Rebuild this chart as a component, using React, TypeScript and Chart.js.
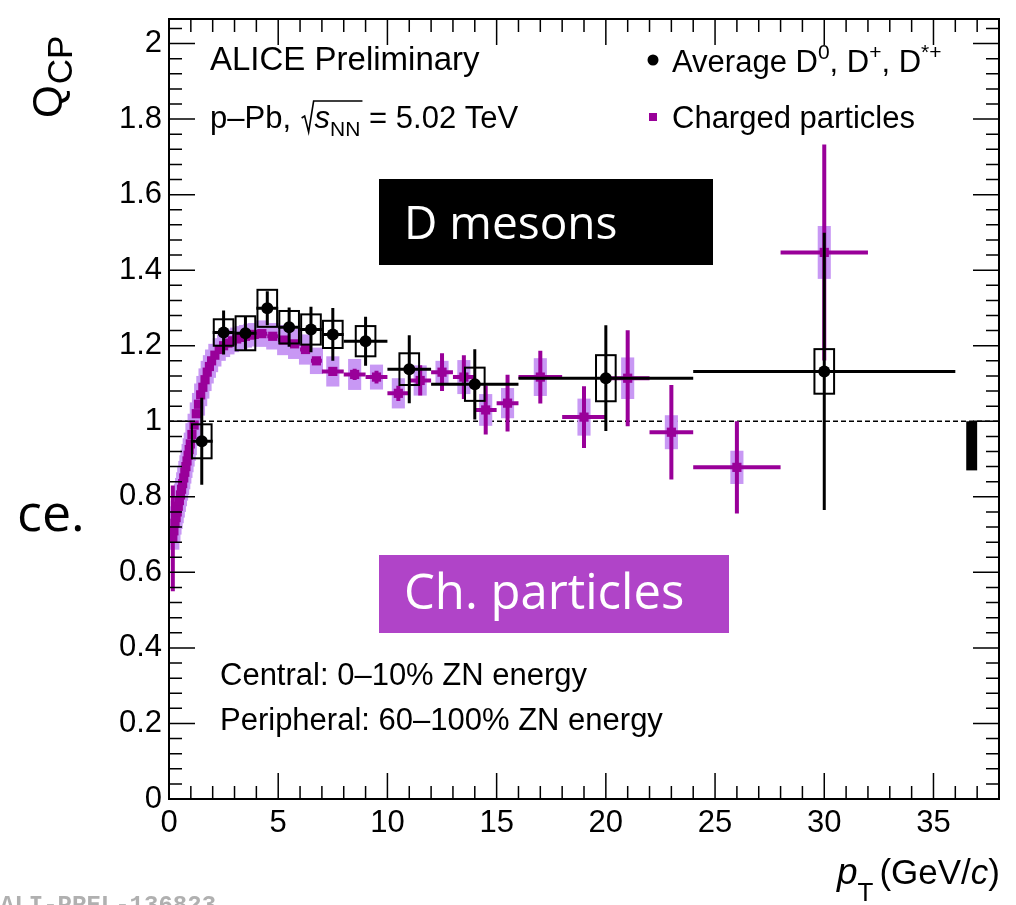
import React, { useEffect, useRef } from "react";
import { Chart, registerables } from "chart.js";

Chart.register(...registerables);

// ---------------- Data ----------------
// D mesons (average D0, D+, D*+)
const dX = [1.5, 2.5, 3.5, 4.5, 5.5, 6.5, 7.5, 9, 11, 14, 20, 30];
const dXErr = [0.5, 0.5, 0.5, 0.5, 0.5, 0.5, 0.5, 1, 1, 2, 4, 6];
const dY = [0.947, 1.235, 1.233, 1.299, 1.249, 1.243, 1.23, 1.212, 1.138, 1.098, 1.114, 1.132];
const dStat = [0.115, 0.058, 0.045, 0.045, 0.052, 0.06, 0.07, 0.065, 0.09, 0.093, 0.14, 0.367];
const dSyst = [0.045, 0.035, 0.045, 0.049, 0.043, 0.04, 0.036, 0.04, 0.042, 0.044, 0.061, 0.059];

// Charged particles
const chX = [
  0.175, 0.225, 0.275, 0.325, 0.375, 0.425, 0.475, 0.525, 0.575, 0.625, 0.675, 0.725, 0.775, 0.825, 0.875, 0.925, 0.975,
  1.05, 1.15, 1.25, 1.35, 1.45, 1.55, 1.65, 1.75, 1.85, 1.95,
  2.1, 2.3, 2.5, 2.7, 2.9, 3.1, 3.3, 3.5, 3.7, 3.9,
  4.25, 4.75, 5.25, 5.75, 6.25, 6.75,
  7.5, 8.5, 9.5, 10.5, 11.5, 12.5, 13.5, 14.5, 15.5,
  17, 19, 21, 23, 26, 30,
];
const chXErr = [
  0.025, 0.025, 0.025, 0.025, 0.025, 0.025, 0.025, 0.025, 0.025, 0.025, 0.025, 0.025, 0.025, 0.025, 0.025, 0.025, 0.025,
  0.05, 0.05, 0.05, 0.05, 0.05, 0.05, 0.05, 0.05, 0.05, 0.05,
  0.1, 0.1, 0.1, 0.1, 0.1, 0.1, 0.1, 0.1, 0.1, 0.1,
  0.25, 0.25, 0.25, 0.25, 0.25, 0.25,
  0.5, 0.5, 0.5, 0.5, 0.5, 0.5, 0.5, 0.5, 0.5,
  1, 1, 1, 1, 2, 2,
];
const chY = [
  0.69, 0.71, 0.73, 0.745, 0.76, 0.775, 0.79, 0.805, 0.82, 0.835, 0.85, 0.865, 0.88, 0.895, 0.91, 0.925, 0.94,
  0.965, 0.99, 1.02, 1.045, 1.07, 1.09, 1.11, 1.13, 1.145, 1.16,
  1.175, 1.19, 1.2, 1.207, 1.213, 1.218, 1.222, 1.225, 1.228, 1.23,
  1.232, 1.225, 1.215, 1.205, 1.19, 1.16,
  1.132, 1.124, 1.117, 1.074, 1.108, 1.13, 1.117, 1.03, 1.048,
  1.117, 1.011, 1.114, 0.971, 0.878, 1.447,
];
const chStat = [
  0.14, 0.02, 0.01, 0.008, 0.006, 0.005, 0.005, 0.005, 0.005, 0.005, 0.005, 0.005, 0.005, 0.005, 0.005, 0.005, 0.005,
  0.005, 0.005, 0.005, 0.005, 0.005, 0.005, 0.005, 0.005, 0.005, 0.005,
  0.005, 0.005, 0.005, 0.005, 0.005, 0.005, 0.005, 0.005, 0.005, 0.005,
  0.006, 0.006, 0.007, 0.008, 0.009, 0.01,
  0.012, 0.015, 0.017, 0.02, 0.04, 0.05, 0.058, 0.065, 0.075,
  0.07, 0.082, 0.127, 0.125, 0.122, 0.286,
];
const chSyst = [
  0.03, 0.03, 0.03, 0.03, 0.03, 0.03, 0.03, 0.03, 0.03, 0.03, 0.03, 0.03, 0.03, 0.03, 0.03, 0.03, 0.03,
  0.03, 0.03, 0.03, 0.03, 0.03, 0.03, 0.03, 0.03, 0.03, 0.03,
  0.03, 0.03, 0.03, 0.03, 0.03, 0.03, 0.03, 0.03, 0.03, 0.03,
  0.035, 0.035, 0.04, 0.04, 0.04, 0.035,
  0.04, 0.041, 0.033, 0.04, 0.04, 0.03, 0.045, 0.042, 0.04,
  0.05, 0.049, 0.055, 0.045, 0.044, 0.07,
];

// normalisation uncertainty box
const normBoxX = [36.5, 37.0];
const normBoxY = [0.87, 1.0];

// Axis ticks
const xTicks = [0, 5, 10, 15, 20, 25, 30, 35];
const xTickLabels = ["0", "5", "10", "15", "20", "25", "30", "35"];
const yTicks = [0, 0.2, 0.4, 0.6, 0.8, 1, 1.2, 1.4, 1.6, 1.8, 2];
const yTickLabels = ["0", "0.2", "0.4", "0.6", "0.8", "1", "1.2", "1.4", "1.6", "1.8", "2"];

const X_MIN = 0;
const X_MAX = 38;
const Y_MIN = 0;
const Y_MAX = 2.065;

// ---------------- Styles ----------------
const SANS = "'Liberation Sans', Arial, Helvetica, sans-serif";
const SLIDE = "'Open Sans', 'Noto Sans', sans-serif";
const PURPLE = "#990099";
const LIGHT_PURPLE = "#c898f4";
const CH_BOX_HALF = 0.3;
const D_BOX_HALF = 0.45;

type Seg = { t: string; f: string; dy?: number; gap?: number };

function drawRich(ctx: CanvasRenderingContext2D, x: number, y: number, segs: Seg[]) {
  let cx = x;
  for (const s of segs) {
    ctx.font = s.f;
    cx += s.gap || 0;
    ctx.fillText(s.t, cx, y + (s.dy || 0));
    cx += ctx.measureText(s.t).width;
  }
  return cx;
}

function richWidth(ctx: CanvasRenderingContext2D, segs: Seg[]) {
  let w = 0;
  for (const s of segs) {
    ctx.font = s.f;
    w += ctx.measureText(s.t).width + (s.gap || 0);
  }
  return w;
}

const qcpPlugin = {
  id: "qcpPlugin",
  beforeDatasetsDraw(chart: any) {
    const { ctx, chartArea: a, scales } = chart;
    const x = scales.x;
    const y = scales.y;
    ctx.save();
    ctx.beginPath();
    ctx.rect(a.left, a.top, a.right - a.left, a.bottom - a.top);
    ctx.clip();
    ctx.strokeStyle = "#000";
    ctx.lineWidth = 1.5;
    ctx.setLineDash([5, 3]);
    ctx.beginPath();
    ctx.moveTo(x.getPixelForValue(X_MIN), y.getPixelForValue(1));
    ctx.lineTo(x.getPixelForValue(X_MAX), y.getPixelForValue(1));
    ctx.stroke();
    ctx.setLineDash([]);
    ctx.fillStyle = "#000";
    const nx0 = x.getPixelForValue(normBoxX[0]);
    const nx1 = x.getPixelForValue(normBoxX[1]);
    const ny0 = y.getPixelForValue(normBoxY[1]);
    const ny1 = y.getPixelForValue(normBoxY[0]);
    ctx.fillRect(nx0, ny0, nx1 - nx0, ny1 - ny0);
    ctx.restore();
  },
  beforeDatasetDraw(chart: any, args: any) {
    const { ctx, chartArea: a, scales } = chart;
    const x = scales.x;
    const y = scales.y;
    ctx.save();
    ctx.beginPath();
    ctx.rect(a.left, a.top, a.right - a.left, a.bottom - a.top);
    ctx.clip();
    if (args.index === 1) {
      ctx.fillStyle = LIGHT_PURPLE;
      for (let i = 0; i < chX.length; i++) {
        const x0 = x.getPixelForValue(chX[i] - CH_BOX_HALF);
        const x1 = x.getPixelForValue(chX[i] + CH_BOX_HALF);
        const y0 = y.getPixelForValue(chY[i] + chSyst[i]);
        const y1 = y.getPixelForValue(chY[i] - chSyst[i]);
        ctx.fillRect(x0, y0, x1 - x0, y1 - y0);
      }
      ctx.strokeStyle = PURPLE;
      ctx.lineWidth = 4;
      for (let i = 0; i < chX.length; i++) {
        const px = x.getPixelForValue(chX[i]);
        const py = y.getPixelForValue(chY[i]);
        ctx.beginPath();
        ctx.moveTo(px, y.getPixelForValue(chY[i] + chStat[i]));
        ctx.lineTo(px, y.getPixelForValue(chY[i] - chStat[i]));
        ctx.moveTo(x.getPixelForValue(chX[i] - chXErr[i]), py);
        ctx.lineTo(x.getPixelForValue(chX[i] + chXErr[i]), py);
        ctx.stroke();
      }
    } else if (args.index === 0) {
      ctx.strokeStyle = "#000";
      ctx.lineWidth = 3;
      for (let i = 0; i < dX.length; i++) {
        const px = x.getPixelForValue(dX[i]);
        const py = y.getPixelForValue(dY[i]);
        ctx.beginPath();
        ctx.moveTo(px, y.getPixelForValue(dY[i] + dStat[i]));
        ctx.lineTo(px, y.getPixelForValue(dY[i] - dStat[i]));
        ctx.moveTo(x.getPixelForValue(dX[i] - dXErr[i]), py);
        ctx.lineTo(x.getPixelForValue(dX[i] + dXErr[i]), py);
        ctx.stroke();
      }
      ctx.lineWidth = 2;
      for (let i = 0; i < dX.length; i++) {
        const x0 = x.getPixelForValue(dX[i] - D_BOX_HALF);
        const x1 = x.getPixelForValue(dX[i] + D_BOX_HALF);
        const y0 = y.getPixelForValue(dY[i] + dSyst[i]);
        const y1 = y.getPixelForValue(dY[i] - dSyst[i]);
        ctx.strokeRect(x0, y0, x1 - x0, y1 - y0);
      }
    }
    ctx.restore();
  },
  afterDraw(chart: any) {
    const { ctx, chartArea: a, scales } = chart;
    const x = scales.x;
    const y = scales.y;
    ctx.save();
    ctx.strokeStyle = "#000";
    ctx.lineWidth = 2;
    ctx.strokeRect(a.left, a.top, a.right - a.left, a.bottom - a.top);

    ctx.lineWidth = 1.5;
    const MAJ = 26;
    const MIN = 13;
    ctx.beginPath();
    for (let v = 0; v <= X_MAX + 1e-9; v += 1) {
      const px = x.getPixelForValue(v);
      const len = Math.abs(v % 5) < 1e-9 ? MAJ : MIN;
      ctx.moveTo(px, a.bottom);
      ctx.lineTo(px, a.bottom - len);
      ctx.moveTo(px, a.top);
      ctx.lineTo(px, a.top + len);
    }
    for (let k = 0; k * 0.04 <= Y_MAX + 1e-9; k++) {
      const v = k * 0.04;
      const py = y.getPixelForValue(v);
      const len = k % 5 === 0 ? MAJ : MIN;
      ctx.moveTo(a.left, py);
      ctx.lineTo(a.left + len, py);
      ctx.moveTo(a.right, py);
      ctx.lineTo(a.right - len, py);
    }
    ctx.stroke();

    ctx.fillStyle = "#000";
    ctx.font = `31px ${SANS}`;
    ctx.textAlign = "center";
    ctx.textBaseline = "top";
    xTicks.forEach((v, i) => ctx.fillText(xTickLabels[i], x.getPixelForValue(v), a.bottom + 9));
    ctx.textAlign = "right";
    ctx.textBaseline = "middle";
    yTicks.forEach((v, i) => ctx.fillText(yTickLabels[i], a.left - 7, y.getPixelForValue(v)));

    ctx.textAlign = "left";
    ctx.textBaseline = "alphabetic";
    {
      const segs: Seg[] = [
        { t: "p", f: `italic 37px ${SANS}` },
        { t: "T", f: `26px ${SANS}`, dy: 17 },
        { t: "(GeV/", f: `35px ${SANS}`, gap: 6 },
        { t: "c", f: `italic 35px ${SANS}` },
        { t: ")", f: `35px ${SANS}` },
      ];
      const w = richWidth(ctx, segs);
      drawRich(ctx, 1000 - w, 884, segs);
    }
    ctx.save();
    ctx.translate(62, 118);
    ctx.rotate(-Math.PI / 2);
    drawRich(ctx, 0, 0, [
      { t: "Q", f: `42px ${SANS}` },
      { t: "CP", f: `35px ${SANS}`, dy: 10, gap: 1 },
    ]);
    ctx.restore();

    ctx.fillStyle = "#000";
    ctx.font = `33px ${SANS}`;
    ctx.fillText("ALICE Preliminary", 210, 70);
    {
      const base = 128;
      const cx = drawRich(ctx, 210, base, [{ t: "p\u2013Pb, ", f: `31px ${SANS}` }]);
      const rx = cx + 2;
      ctx.font = `italic 31px ${SANS}`;
      const sw = ctx.measureText("s").width;
      ctx.font = `21px ${SANS}`;
      const nw = ctx.measureText("NN").width;
      ctx.lineWidth = 1.6;
      ctx.strokeStyle = "#000";
      ctx.beginPath();
      ctx.moveTo(rx, base - 10);
      ctx.lineTo(rx + 3, base - 12);
      ctx.lineTo(rx + 7, base + 4);
      ctx.lineTo(rx + 12, base - 27);
      ctx.lineTo(rx + 15 + sw + nw, base - 27);
      ctx.stroke();
      drawRich(ctx, rx + 13, base, [
        { t: "s", f: `italic 31px ${SANS}` },
        { t: "NN", f: `21px ${SANS}`, dy: 8 },
        { t: " = 5.02 TeV", f: `31px ${SANS}` },
      ]);
    }

    ctx.fillStyle = "#000";
    ctx.beginPath();
    ctx.arc(653, 60, 5.5, 0, Math.PI * 2);
    ctx.fill();
    drawRich(ctx, 672, 72, [
      { t: "Average D", f: `31px ${SANS}` },
      { t: "0", f: `21px ${SANS}`, dy: -13 },
      { t: ", D", f: `31px ${SANS}` },
      { t: "+", f: `21px ${SANS}`, dy: -13 },
      { t: ", D", f: `31px ${SANS}` },
      { t: "*+", f: `21px ${SANS}`, dy: -13 },
    ]);
    ctx.fillStyle = PURPLE;
    ctx.fillRect(649, 113, 8, 8);
    ctx.fillStyle = "#000";
    ctx.font = `31px ${SANS}`;
    ctx.fillText("Charged particles", 672, 128);

    ctx.font = `31px ${SANS}`;
    ctx.fillText("Central: 0\u201310% ZN energy", 220, 685);
    ctx.fillText("Peripheral: 60\u2013100% ZN energy", 220, 730);

    ctx.fillStyle = "#000";
    ctx.fillRect(379, 179, 334, 86);
    ctx.fillStyle = "#fff";
    ctx.font = `46px ${SLIDE}`;
    ctx.fillText("D mesons", 404, 239);
    ctx.fillStyle = "#b044c8";
    ctx.fillRect(379, 555, 350, 78);
    ctx.fillStyle = "#fff";
    ctx.font = `49px ${SLIDE}`;
    ctx.fillText("Ch. particles", 404, 609);

    ctx.fillStyle = "#000";
    ctx.font = `52px ${SLIDE}`;
    ctx.fillText("ce.", 17, 531);

    ctx.fillStyle = "#b0b0b0";
    ctx.font = `bold 24px 'Liberation Mono', 'DejaVu Sans Mono', monospace`;
    ctx.fillText("ALI-PREL-136823", 0, 912);
    ctx.restore();
  },
};

export default function App() {
  const ref = useRef<HTMLCanvasElement | null>(null);
  useEffect(() => {
    if (!ref.current) return;
    const chart = new Chart(ref.current, {
      type: "scatter",
      data: {
        datasets: [
          {
            label: "Average D0, D+, D*+",
            data: dX.map((v, i) => ({ x: v, y: dY[i] })),
            pointStyle: "circle",
            pointRadius: 6,
            backgroundColor: "#000",
            borderColor: "#000",
            borderWidth: 0,
          },
          {
            label: "Charged particles",
            data: chX.map((v, i) => ({ x: v, y: chY[i] })),
            pointStyle: "rect",
            pointRadius: 6.5,
            backgroundColor: PURPLE,
            borderColor: PURPLE,
            borderWidth: 0,
          },
        ],
      },
      options: {
        responsive: false,
        animation: false,
        devicePixelRatio: 1,
        layout: { padding: { left: 169, right: 17, top: 19, bottom: 106 } },
        scales: {
          x: { type: "linear", min: X_MIN, max: X_MAX, display: false },
          y: { type: "linear", min: Y_MIN, max: Y_MAX, display: false },
        },
        plugins: { legend: { display: false }, tooltip: { enabled: false } },
        events: [],
      },
      plugins: [qcpPlugin],
    });
    return () => chart.destroy();
  }, []);
  return (
    <div style={{ position: "absolute", left: 0, top: 0, width: 1016, height: 905, background: "#fff" }}>
      <canvas ref={ref} width={1016} height={905} style={{ display: "block" }} />
    </div>
  );
}
